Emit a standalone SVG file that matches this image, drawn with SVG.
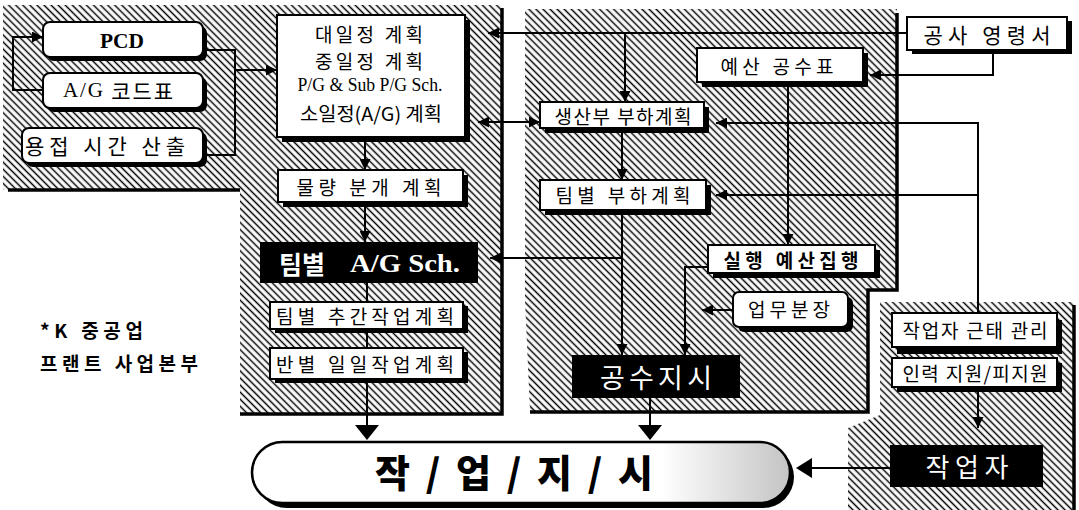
<svg xmlns="http://www.w3.org/2000/svg" width="1079" height="510" viewBox="0 0 1079 510">
<defs>
<pattern id="hatch" width="5" height="5" patternUnits="userSpaceOnUse" patternTransform="rotate(45)">
<rect width="5" height="5" fill="#fff"/>
<line x1="0" y1="2.5" x2="5" y2="2.5" stroke="#000" stroke-width="1.5"/>
</pattern>
<linearGradient id="pillg" x1="0" y1="0" x2="1" y2="0">
<stop offset="0" stop-color="#fff"/>
<stop offset="0.76" stop-color="#fff"/>
<stop offset="1" stop-color="#c4c4c4"/>
</linearGradient>
<marker id="ar" viewBox="0 0 10 10" refX="10" refY="5" markerWidth="11" markerHeight="11" markerUnits="userSpaceOnUse" orient="auto-start-reverse">
<path d="M0,0 L10,5 L0,10 z" fill="#000"/>
</marker>
<style>
.box{fill:#fff;stroke:#000;stroke-width:2}
.sh{fill:#000}
.blk{fill:#000}
.k{font-family:"Noto Sans CJK KR","Noto Sans",sans-serif;fill:#000;text-anchor:middle;dominant-baseline:central}
.s{font-family:"Liberation Serif",serif;font-weight:bold;fill:#000;text-anchor:middle;dominant-baseline:central}
.w{fill:#fff}
.c{stroke:#000;stroke-width:2;fill:none}
.edge{stroke:#000;stroke-width:3.5;fill:none}
</style>
</defs>
<rect width="1079" height="510" fill="#fff"/>

<g id="panels">
<polygon points="3,5 501,5 501,413 240,413 240,190 3,190" fill="url(#hatch)"/>
<polyline class="edge" points="8,190 240,190"/>
<polyline class="edge" points="502,8 502,414 240,414"/>
<polygon points="525,9 897,9 897,290 868,290 868,411 530,411 525,300" fill="url(#hatch)"/>
<polyline class="edge" points="897,13 897,290 868,290 868,412 530,412"/>
<polygon points="880,302 1074,302 1074,510 848,510 848,428 880,415" fill="url(#hatch)"/>
<polyline class="edge" points="1074,305 1074,510"/>
</g>

<g id="connectors">
<path class="c" d="M43,90 H13 V37 H43" marker-end="url(#ar)"/>
<path class="c" d="M203,50 H235 V155 H203"/>
<path class="c" d="M235,70 H277" marker-end="url(#ar)"/>
<path class="c" d="M365,137 V170" marker-end="url(#ar)"/>
<path class="c" d="M365,202 V242" marker-end="url(#ar)"/>
<path class="c" d="M367,283 V302 M367,329 V348"/>
<path class="c" d="M367,381 V425"/>
<path class="c" d="M907,33 H488" marker-end="url(#ar)"/>
<path class="c" d="M625,33 V102" marker-end="url(#ar)"/>
<path class="c" d="M993,50 V75 H870" marker-end="url(#ar)"/>
<path class="c" d="M478,122 H540" marker-start="url(#ar)" marker-end="url(#ar)"/>
<path class="c" d="M622,128 V180" marker-end="url(#ar)"/>
<path class="c" d="M978,313 V123 H716" marker-end="url(#ar)"/>
<path class="c" d="M978,195 H716" marker-end="url(#ar)"/>
<path class="c" d="M788,82 V245" marker-end="url(#ar)"/>
<path class="c" d="M622,210 V355" marker-end="url(#ar)"/>
<path class="c" d="M622,258 H490" marker-end="url(#ar)"/>
<path class="c" d="M708,267 H685 V355" marker-end="url(#ar)"/>
<path class="c" d="M733,310 H702" marker-end="url(#ar)"/>
<path class="c" d="M650,398 V425"/>
<path class="c" d="M978,390 V428" marker-end="url(#ar)"/>
<path class="c" d="M890,468 H812"/>
<path d="M367,440 L355,425 L379,425 Z" class="blk"/>
<path d="M650,440 L638,425 L662,425 Z" class="blk"/>
<path d="M796,468 L812,458 L812,478 Z" class="blk"/>
</g>

<g id="pcd">
<rect class="sh" x="47" y="26" width="160" height="35" rx="7"/>
<rect class="box" x="43" y="22" width="160" height="35" rx="7"/>
<text class="s" x="122" y="40" style="font-size:22px" textLength="44" lengthAdjust="spacingAndGlyphs">PCD</text>
</g>
<g id="agcode">
<rect class="sh" x="47" y="77" width="160" height="35" rx="7"/>
<rect class="box" x="43" y="73" width="160" height="35" rx="7"/>
<text class="k" x="118" y="90" style="font-size:21px" textLength="110" lengthAdjust="spacing"><tspan font-family="Liberation Serif">A/G</tspan> 코드표</text>
</g>
<g id="weld">
<rect class="sh" x="26" y="132" width="181" height="35" rx="7"/>
<rect class="box" x="22" y="128" width="181" height="35" rx="7"/>
<text class="k" x="105" y="145" style="font-size:21px" textLength="160" lengthAdjust="spacing">용접 시간 산출</text>
</g>

<g id="plan">
<rect class="sh" x="282" y="20" width="188" height="122"/>
<rect class="box" x="277" y="15" width="188" height="122"/>
<text class="k" x="369" y="33" style="font-size:19px" textLength="108" lengthAdjust="spacing">대일정 계획</text>
<text class="k" x="369" y="60" style="font-size:19px" textLength="108" lengthAdjust="spacing">중일정 계획</text>
<text class="s" x="370" y="85" style="font-size:18px;font-weight:normal" textLength="145" lengthAdjust="spacingAndGlyphs">P/G &amp; Sub P/G Sch.</text>
<text class="k" x="371" y="112" style="font-size:19px" textLength="142" lengthAdjust="spacingAndGlyphs">소일정(A/G) 계획</text>
</g>
<g id="quantity">
<rect class="sh" x="283" y="175" width="185" height="32"/>
<rect class="box" x="278" y="170" width="185" height="32"/>
<text class="k" x="369" y="186" style="font-size:19px" textLength="145" lengthAdjust="spacing">물량 분개 계획</text>
</g>
<g id="teamag">
<rect class="blk" x="260" y="242" width="218" height="41"/>
<text class="k w" x="302" y="263" style="font-size:25px;font-weight:bold">팀별</text>
<text class="s w" x="405" y="263" style="font-size:25px" textLength="110" lengthAdjust="spacingAndGlyphs">A/G Sch.</text>
</g>
<g id="weekly">
<rect class="sh" x="275" y="306" width="193" height="27"/>
<rect class="box" x="270" y="302" width="193" height="27"/>
<text class="k" x="365" y="315" style="font-size:19px" textLength="178" lengthAdjust="spacing">팀별 추간작업계획</text>
</g>
<g id="daily">
<rect class="sh" x="275" y="352" width="193" height="31"/>
<rect class="box" x="270" y="348" width="193" height="31"/>
<text class="k" x="365" y="363" style="font-size:19px" textLength="178" lengthAdjust="spacing">반별 일일작업계획</text>
</g>

<g id="order">
<rect class="sh" x="912" y="21" width="160" height="33"/>
<rect class="box" x="907" y="17" width="160" height="33"/>
<text class="k" x="987" y="34" style="font-size:21px" textLength="127" lengthAdjust="spacing">공사 영령서</text>
</g>
<g id="budget">
<rect class="sh" x="702" y="53" width="166" height="34"/>
<rect class="box" x="697" y="48" width="166" height="34"/>
<text class="k" x="777" y="65" style="font-size:19px" textLength="113" lengthAdjust="spacing">예산 공수표</text>
</g>
<g id="prodload">
<rect class="sh" x="545" y="107" width="164" height="26"/>
<rect class="box" x="540" y="102" width="164" height="26"/>
<text class="k" x="623" y="115" style="font-size:19px" textLength="137" lengthAdjust="spacing">생산부 부하계획</text>
</g>
<g id="teamload">
<rect class="sh" x="545" y="185" width="166" height="30"/>
<rect class="box" x="540" y="180" width="166" height="30"/>
<text class="k" x="623" y="194" style="font-size:19px" textLength="135" lengthAdjust="spacing">팀별 부하계획</text>
</g>
<g id="exec">
<rect class="sh" x="713" y="250" width="167" height="28"/>
<rect class="box" x="708" y="245" width="167" height="28"/>
<text class="k" x="791" y="259" style="font-size:19px;font-weight:bold" textLength="135" lengthAdjust="spacing">실행 예산집행</text>
</g>
<g id="duty">
<rect class="sh" x="738" y="297" width="115" height="35" rx="6"/>
<rect class="box" x="733" y="292" width="115" height="35" rx="6"/>
<text class="k" x="789" y="308" style="font-size:19px" textLength="82" lengthAdjust="spacing">업무분장</text>
</g>
<g id="manhour">
<rect class="blk" x="572" y="355" width="168" height="43"/>
<text class="k w" x="656" y="376" style="font-size:27px" textLength="112" lengthAdjust="spacing">공수지시</text>
</g>

<g id="attend">
<rect class="sh" x="897" y="320" width="165" height="34"/>
<rect class="box" x="892" y="313" width="165" height="34"/>
<text class="k" x="975" y="329" style="font-size:19px" textLength="145" lengthAdjust="spacing">작업자 근태 관리</text>
</g>
<g id="support">
<rect class="sh" x="897" y="363" width="165" height="29"/>
<rect class="box" x="892" y="358" width="165" height="29"/>
<text class="k" x="975" y="372" style="font-size:19px" textLength="145" lengthAdjust="spacing">인력 지원/피지원</text>
</g>
<g id="worker">
<rect class="blk" x="890" y="445" width="153" height="42"/>
<text class="k w" x="967" y="465" style="font-size:26px" textLength="83" lengthAdjust="spacing">작업자</text>
</g>

<g id="workorder">
<rect class="sh" x="256" y="446" width="538" height="62" rx="31"/>
<rect x="252" y="442" width="538" height="61" rx="30.5" fill="url(#pillg)" stroke="#000" stroke-width="2.5"/>
<text class="k" x="514" y="470" style="font-size:38px;font-weight:900" textLength="278" lengthAdjust="spacing">작 / 업 / 지 / 시</text>
</g>

<g id="note">
<text class="k" x="40" y="329" style="font-size:19px;font-weight:bold;text-anchor:start" textLength="103" lengthAdjust="spacing">*K 중공업</text>
<text class="k" x="40" y="362" style="font-size:19px;font-weight:bold;text-anchor:start" textLength="158" lengthAdjust="spacing">프랜트 사업본부</text>
</g>
</svg>
